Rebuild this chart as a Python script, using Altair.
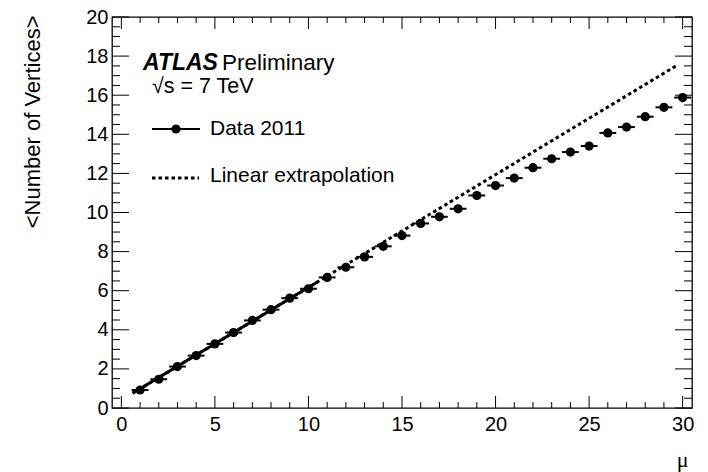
import altair as alt
import pandas as pd

# ---- data ----
mu = list(range(1, 31))
nvtx = [0.92, 1.47, 2.12, 2.68, 3.28, 3.86, 4.48, 5.03, 5.62, 6.10,
        6.68, 7.20, 7.73, 8.27, 8.82, 9.44, 9.78, 10.19, 10.87, 11.38,
        11.76, 12.29, 12.75, 13.09, 13.40, 14.07, 14.37, 14.90, 15.38, 15.88]
half_bin = 0.45

extrap_mu = [0.6, 29.65]
extrap_val = [0.75, 17.5]
fit_mu = [0.6, 10.5]
fit_val = [0.75, 6.46]

x_major = [0, 5, 10, 15, 20, 25, 30]
x_minor = [1, 2, 3, 4, 6, 7, 8, 9, 11, 12, 13, 14, 16, 17, 18, 19,
           21, 22, 23, 24, 26, 27, 28, 29]
y_major = [0, 2, 4, 6, 8, 10, 12, 14, 16, 18, 20]
y_minor = [v + d for v in range(0, 20, 2) for d in (0.5, 1.0, 1.5)]

atlas_label = ["ATLAS"]
prelim_label = ["Preliminary"]
energy_label = ["√s = 7 TeV"]
legend_labels = ["Data 2011", "Linear extrapolation"]

W, H = 580, 391
FONT = "Liberation Sans"

xs = alt.Scale(domain=[-0.5, 30.5], nice=False, zero=False)
ys = alt.Scale(domain=[0, 20], nice=False, zero=False)

data = pd.DataFrame({"mu": mu, "n": nvtx})
data["lo"] = data["mu"] - half_bin
data["hi"] = data["mu"] + half_bin

AX = alt.Axis(values=x_major, ticks=False, tickSize=0, domain=False, grid=False,
              labelOverlap=False, labelFlush=False,
              labelFont=FONT, labelFontSize=20, labelColor="black",
              labelPadding=6, title="μ", titleFont="Liberation Serif",
              titleFontSize=22, titleFontWeight="normal", titleColor="black",
              titleX=W - 4, titleY=58, titleAlign="right",
              titleBaseline="alphabetic", titleAnchor="end")
AY = alt.Axis(values=y_major, ticks=False, tickSize=0, domain=False, grid=False,
              labelOverlap=False, labelFlush=False,
              labelFont=FONT, labelFontSize=20, labelColor="black",
              labelPadding=4, title="<Number of Vertices>", titleFont=FONT,
              titleFontSize=22, titleFontWeight="normal", titleColor="black",
              titleAngle=270, titleX=-80, titleY=-2, titleAlign="right",
              titleBaseline="middle")


def X(f):
    return alt.X(f, scale=xs, axis=AX, title="μ")


def Y(f):
    return alt.Y(f, scale=ys, axis=AY, title="<Number of Vertices>")


# error bars (horizontal)
bars = alt.Chart(data).mark_rule(color="black", strokeWidth=2).encode(
    x=X("lo:Q"), x2="hi:Q", y=Y("n:Q"))
points = alt.Chart(data).mark_point(filled=True, color="black", size=85, opacity=1).encode(
    x=X("mu:Q"), y=Y("n:Q"))

extrap = alt.Chart(pd.DataFrame({"mu": extrap_mu, "v": extrap_val})).mark_line(
    color="black", strokeWidth=3, strokeDash=[3.5, 3]
).encode(x=X("mu:Q"), y=Y("v:Q"))

fit = alt.Chart(pd.DataFrame({"mu": fit_mu, "v": fit_val})).mark_line(
    color="black", strokeWidth=3
).encode(x=X("mu:Q"), y=Y("v:Q"))


# inward ticks on all four sides
def xticks(vals, length):
    df = pd.DataFrame({"t": vals})
    bot = alt.Chart(df).mark_rule(color="black", strokeWidth=1).encode(
        x=X("t:Q"), y=alt.value(H), y2=alt.value(H - length))
    top = alt.Chart(df).mark_rule(color="black", strokeWidth=1).encode(
        x=X("t:Q"), y=alt.value(0), y2=alt.value(length))
    return [bot, top]


def yticks(vals, length):
    df = pd.DataFrame({"t": vals})
    left = alt.Chart(df).mark_rule(color="black", strokeWidth=1).encode(
        y=Y("t:Q"), x=alt.value(0), x2=alt.value(length))
    right = alt.Chart(df).mark_rule(color="black", strokeWidth=1).encode(
        y=Y("t:Q"), x=alt.value(W), x2=alt.value(W - length))
    return [left, right]


tick_layers = xticks(x_major, 12) + xticks(x_minor, 6) + yticks(y_major, 17) + yticks(y_minor, 8)


# annotations / legend
def text(labels, x, y, size=20, weight="normal", style="normal", align="left", font=FONT):
    return alt.Chart(pd.DataFrame({"t": labels})).mark_text(
        align=align, baseline="middle", font=font, fontSize=size,
        fontWeight=weight, fontStyle=style, color="black"
    ).encode(x=alt.value(x), y=alt.value(y), text="t:N")


atlas = text(atlas_label, 31, 46, size=23, weight="bold", style="italic")
prelim = text(prelim_label, 110, 46, size=22.5)
energy = text(energy_label, 40, 70, size=21.5)
leg1_txt = text([legend_labels[0]], 98, 112, size=21)
leg2_txt = text([legend_labels[1]], 98, 159, size=21)

leg1_line = alt.Chart(pd.DataFrame({"k": [0]})).mark_rule(color="black", strokeWidth=2).encode(
    x=alt.value(40), x2=alt.value(88), y=alt.value(112))
leg1_dot = alt.Chart(pd.DataFrame({"k": [0]})).mark_point(
    filled=True, color="black", size=85, opacity=1).encode(x=alt.value(64), y=alt.value(112))
leg2_line = alt.Chart(pd.DataFrame({"k": [0]})).mark_rule(
    color="black", strokeWidth=3, strokeDash=[3.5, 3]).encode(
    x=alt.value(40), x2=alt.value(87), y=alt.value(161))

chart = alt.layer(
    bars, *tick_layers, extrap, fit, points,
    atlas, prelim, energy, leg1_line, leg1_dot, leg1_txt, leg2_line, leg2_txt
).properties(
    width=W, height=H,
    autosize=alt.AutoSizeParams(type="none"),
    padding={"left": 112, "top": 17, "right": 16, "bottom": 64},
    background="white",
).configure_view(stroke="black", strokeWidth=1.3)

chart.save("out.html", embed_options={"renderer": "svg", "actions": False})
